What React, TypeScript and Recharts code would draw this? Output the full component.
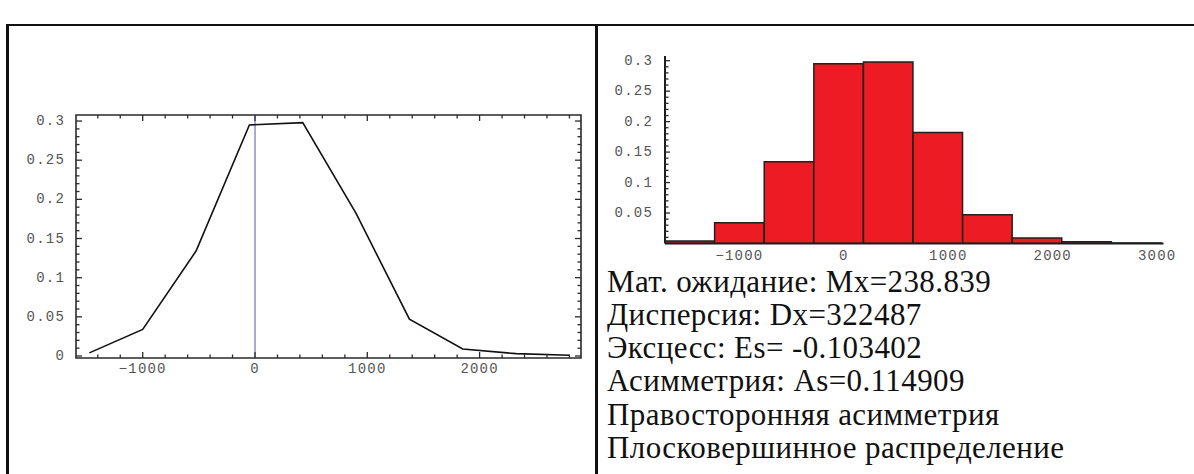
import React from "react";
import {
  LineChart,
  Line,
  XAxis,
  YAxis,
  ReferenceLine,
  ReferenceArea,
  ComposedChart,
  Bar,
} from "recharts";

// ---------- data ----------
const binCenters = [-1475, -1000, -525, -50, 425, 900, 1375, 1850, 2325, 2800];
const frequencies = [0.004, 0.034, 0.134, 0.295, 0.298, 0.182, 0.047, 0.009, 0.003, 0.001];
const BIN_WIDTH = 475;

const leftXLabels = [-1000, 0, 1000, 2000];
const leftXTicks = Array.from({ length: 22 }, (_, i) => -1400 + 200 * i);
const histXLabels = [-1000, 0, 1000, 2000, 3000];
const yLabels = [0, 0.05, 0.1, 0.15, 0.2, 0.25, 0.3];
const yTicks = Array.from({ length: 31 }, (_, i) => i / 100);
const histYTicks = Array.from({ length: 30 }, (_, i) => (i + 1) / 100);

const statsLines = [
  "Мат. ожидание: Mx=238.839",
  "Дисперсия: Dx=322487",
  "Эксцесс: Es= -0.103402",
  "Асимметрия: As=0.114909",
  "Правосторонняя асимметрия",
  "Плосковершинное распределение",
];

const data = binCenters.map((x, i) => ({ x, freq: frequencies[i] }));

// ---------- layout / style ----------
const FRAME = "#2a2a2a";
const TICK_FONT = {
  fontFamily: "'Liberation Mono', 'DejaVu Sans Mono', monospace",
  fontSize: 14,
  letterSpacing: 1.2,
  fill: "#555",
};

const L_W = 598;
const L_H = 420;
const L_MARGIN = { top: 115, right: 17, bottom: 32, left: 0 };
const L_YAXIS_W = 76;
const L_XAXIS_H = 30;
const L_PLOT_W = L_W - L_MARGIN.left - L_MARGIN.right - L_YAXIS_W;
const L_PLOT_H = L_H - L_MARGIN.top - L_MARGIN.bottom - L_XAXIS_H;
const L_XDOMAIN: [number, number] = [-1594, 2903];
const L_YDOMAIN: [number, number] = [-0.00255, 0.3077];

const H_LEFT = 598;
const H_W = 596;
const H_H = 270;
const H_MARGIN = { top: 56, right: 30.5, bottom: 6.5, left: 0 };
const H_YAXIS_W = 67;
const H_XAXIS_H = 20;
const H_PLOT_W = H_W - H_MARGIN.left - H_MARGIN.right - H_YAXIS_W;
const H_XDOMAIN: [number, number] = [-1712.5, 3060];
const H_YDOMAIN: [number, number] = [0, 0.3077];
// slightly under the band width so Recharts keeps the explicit size (no 10% shrink)
const H_BAR_SIZE = ((BIN_WIDTH * H_PLOT_W) / (H_XDOMAIN[1] - H_XDOMAIN[0])) * 0.997;

const fmt = (v: number) => (v < 0 ? "\u2212" + Math.abs(v) : String(v));

// ---------- custom ticks ----------
const LeftXTick = (props: any) => {
  const { x, y, payload } = props;
  const v = payload.value as number;
  const major = leftXLabels.includes(v);
  const len = major ? 6 : 3.5;
  const top = y - L_PLOT_H;
  return (
    <g>
      <line x1={x} x2={x} y1={y} y2={y - len} stroke={FRAME} strokeWidth={1.3} />
      <line x1={x} x2={x} y1={top} y2={top + len} stroke={FRAME} strokeWidth={1.3} />
      {major && (
        <text x={x} y={y + 11} textAnchor="middle" dominantBaseline="central" {...TICK_FONT}>
          {fmt(v)}
        </text>
      )}
    </g>
  );
};

const LeftYTick = (props: any) => {
  const { x, y, payload } = props;
  const v = payload.value as number;
  const major = yLabels.includes(v);
  const len = major ? 6 : 3.5;
  const right = x + L_PLOT_W;
  return (
    <g>
      <line x1={x} x2={x + len} y1={y} y2={y} stroke={FRAME} strokeWidth={1.3} />
      <line x1={right} x2={right - len} y1={y} y2={y} stroke={FRAME} strokeWidth={1.3} />
      {major && (
        <text x={x - 11} y={y} textAnchor="end" dominantBaseline="central" {...TICK_FONT}>
          {fmt(v)}
        </text>
      )}
    </g>
  );
};

const HistXTick = (props: any) => {
  const { x, y, payload } = props;
  const v = payload.value as number;
  return (
    <text x={x} y={y + 12} textAnchor="middle" dominantBaseline="central" {...TICK_FONT}>
      {fmt(v)}
    </text>
  );
};

const HistYTick = (props: any) => {
  const { x, y, payload } = props;
  const v = payload.value as number;
  const major = yLabels.includes(v);
  const len = major ? 5 : 3.5;
  return (
    <g>
      <line x1={x} x2={x + len} y1={y} y2={y} stroke={FRAME} strokeWidth={1.3} />
      {major && (
        <text x={x - 12} y={y} textAnchor="end" dominantBaseline="central" {...TICK_FONT}>
          {fmt(v)}
        </text>
      )}
    </g>
  );
};

// ---------- app ----------
export default function App() {
  return (
    <div
      style={{
        position: "fixed",
        left: 0,
        top: 0,
        width: 1194,
        height: 474,
        overflow: "hidden",
        background: "#fff",
      }}
    >
      {/* table borders */}
      <div style={{ position: "absolute", left: 6, top: 24, width: 1188, height: 2, background: "#111" }} />
      <div style={{ position: "absolute", left: 6, top: 24, width: 2.5, height: 450, background: "#111" }} />
      <div style={{ position: "absolute", left: 595, top: 24, width: 2.5, height: 450, background: "#111" }} />

      {/* left: frequency polygon */}
      <div style={{ position: "absolute", left: 0, top: 0 }}>
        <LineChart width={L_W} height={L_H} data={data} margin={L_MARGIN}>
          <XAxis
            dataKey="x"
            type="number"
            domain={L_XDOMAIN}
            allowDataOverflow
            ticks={leftXTicks}
            interval={0}
            tickSize={0}
            tickMargin={0}
            tickLine={false}
            axisLine={false}
            height={L_XAXIS_H}
            tick={(p: any) => <LeftXTick {...p} />}
          />
          <YAxis
            type="number"
            domain={L_YDOMAIN}
            allowDataOverflow
            ticks={yTicks}
            interval={0}
            tickSize={0}
            tickMargin={0}
            tickLine={false}
            axisLine={false}
            width={L_YAXIS_W}
            tick={(p: any) => <LeftYTick {...p} />}
          />
          <ReferenceArea
            x1={L_XDOMAIN[0]}
            x2={L_XDOMAIN[1]}
            y1={L_YDOMAIN[0]}
            y2={L_YDOMAIN[1]}
            fill="none"
            fillOpacity={0}
            stroke={FRAME}
            strokeWidth={1.6}
            ifOverflow="visible"
          />
          <ReferenceLine x={0} stroke="#4a5aa6" strokeWidth={1} ifOverflow="visible" />
          <Line
            type="linear"
            dataKey="freq"
            stroke="#111"
            strokeWidth={1.6}
            dot={false}
            isAnimationActive={false}
          />
        </LineChart>
      </div>

      {/* right: histogram */}
      <div style={{ position: "absolute", left: H_LEFT, top: 0 }}>
        <ComposedChart width={H_W} height={H_H} data={data} margin={H_MARGIN} barCategoryGap={0}>
          <XAxis
            dataKey="x"
            type="number"
            domain={H_XDOMAIN}
            allowDataOverflow
            ticks={histXLabels}
            interval={0}
            tickSize={0}
            tickMargin={0}
            tickLine={false}
            axisLine={{ stroke: "#1e1e1e", strokeWidth: 2 }}
            height={H_XAXIS_H}
            tick={(p: any) => <HistXTick {...p} />}
          />
          <YAxis
            type="number"
            domain={H_YDOMAIN}
            allowDataOverflow
            ticks={histYTicks}
            interval={0}
            tickSize={0}
            tickMargin={0}
            tickLine={false}
            axisLine={{ stroke: "#1e1e1e", strokeWidth: 2 }}
            width={H_YAXIS_W}
            tick={(p: any) => <HistYTick {...p} />}
          />
          <Bar
            dataKey="freq"
            fill="#ed1c24"
            stroke="#231f20"
            strokeWidth={1.5}
            barSize={H_BAR_SIZE}
            isAnimationActive={false}
          />
        </ComposedChart>
      </div>

      {/* statistics text */}
      <div
        style={{
          position: "absolute",
          left: 607,
          top: 264.6,
          fontFamily: "'Liberation Serif', 'Times New Roman', Tinos, 'DejaVu Serif', serif",
          fontSize: 31,
          lineHeight: "33.3px",
          letterSpacing: 0.4,
          color: "#111",
          whiteSpace: "nowrap",
        }}
      >
        {statsLines.map((s) => (
          <div key={s}>{s}</div>
        ))}
      </div>
    </div>
  );
}
